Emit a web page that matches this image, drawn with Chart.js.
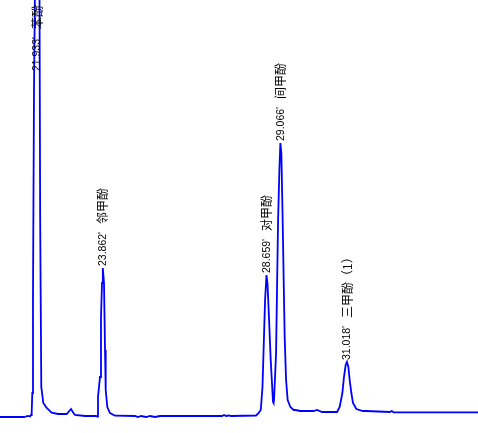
<!DOCTYPE html>
<html>
<head>
<meta charset="utf-8">
<script src="https://cdn.jsdelivr.net/npm/chart.js@4/dist/chart.umd.min.js"></script>
<style>
html,body{margin:0;padding:0;background:#fff;}
#wrap{width:478px;height:433px;}
</style>
</head>
<body>
<div id="wrap"><canvas id="c" width="478" height="433"></canvas></div>
<script>
// Retention time (min)
const times = [20.849, 21.552, 21.670, 21.728, 21.758, 21.778, 21.796, 21.816, 21.846, 21.875,
  21.933, 22.006, 22.026, 22.059, 22.118, 22.218, 22.364, 22.549, 22.804, 22.880,
  22.930, 22.997, 23.047, 23.340, 23.663, 23.701, 23.721, 23.780, 23.809, 23.839,
  23.862, 23.897, 23.927, 23.947, 23.994, 24.073, 24.220, 24.806, 24.894, 24.982,
  25.128, 25.246, 25.392, 25.539, 26.711, 27.356, 27.414, 27.473, 27.561, 27.620,
  28.352, 28.420, 28.492, 28.542, 28.589, 28.618, 28.659, 28.688, 28.735, 28.783,
  28.826, 28.850, 28.866, 28.880, 28.940, 28.969, 28.999, 29.037, 29.066, 29.095,
  29.133, 29.163, 29.192, 29.233, 29.280, 29.359, 29.456, 29.506, 29.652, 30.033,
  30.142, 30.288, 30.728, 30.804, 30.883, 30.930, 30.980, 31.018, 31.059, 31.097,
  31.147, 31.194, 31.293, 31.487, 31.586, 32.269, 32.328, 32.386, 34.858];
// Detector signal
const signal = [0, 0, 1, 0.5, 2, 5, 24, 120, 330, 430,
  800, 430, 200, 30, 14, 9, 4.3, 3, 3, 6,
  8, 4.3, 2, 1, 1, 0.5, 20, 40, 100, 134,
  149, 134, 67, 27, 10, 4, 1.3, 1, 0, 1,
  0, 1, 0, 1, 1, 1, 2, 1, 1.5, 1,
  1.5, 3.7, 7, 30, 84, 117, 142, 134, 97, 57,
  30, 15, 14, 17, 64, 130, 197, 247, 274, 264,
  197, 137, 80, 37, 17, 10, 7, 7, 6, 6,
  7, 5, 5, 10, 24, 40, 52, 55, 50, 37,
  24, 14, 8, 6, 6, 5, 6, 4.7, 4.7];
// Peak annotations
const peakTimes = [21.933, 23.862, 28.659, 29.066, 31.018];
const peakTimeLabels = ["21.933'", "23.862'", "28.659'", "29.066'", "31.018'"];
const peakNames = ["苯酚", "邻甲酚", "对甲酚", "间甲酚", "三甲酚（1）"];

const points = times.map((t, i) => ({x: t, y: signal[i]}));

const peakLabelPlugin = {
  id: 'peakLabels',
  afterDatasetsDraw(chart) {
    const ctx = chart.ctx;
    const xs = chart.scales.x, ys = chart.scales.y;
    const numFont = "10.5px 'Liberation Sans', Arial, sans-serif";
    const nameFont = "12px 'Noto Sans CJK SC', sans-serif";
    const gap = 8;
    peakTimes.forEach((t, k) => {
      let best = 0;
      times.forEach((tt, i) => { if (Math.abs(tt - t) < 0.03 && signal[i] > best) best = signal[i]; });
      const px = xs.getPixelForValue(t);
      const py = ys.getPixelForValue(best);
      ctx.save();
      ctx.font = numFont;
      const w1 = ctx.measureText(peakTimeLabels[k]).width;
      ctx.font = nameFont;
      const w2 = ctx.measureText(peakNames[k]).width;
      const total = w1 + gap + w2;
      let start = py - 2;
      if (start - total < 4) start = total + 5;
      ctx.translate(px, start);
      ctx.rotate(-Math.PI / 2);
      ctx.fillStyle = '#000';
      ctx.textBaseline = 'middle';
      ctx.textAlign = 'left';
      ctx.font = numFont;
      ctx.fillText(peakTimeLabels[k], 0, 0.5);
      ctx.font = nameFont;
      ctx.fillText(peakNames[k], w1 + gap, 0);
      ctx.restore();
    });
  }
};

new Chart(document.getElementById('c'), {
  type: 'line',
  data: {
    datasets: [{
      data: points,
      borderColor: '#0000FF',
      borderWidth: 1.8,
      pointRadius: 0,
      tension: 0,
      fill: false
    }]
  },
  options: {
    responsive: false,
    animation: false,
    layout: {padding: 0},
    plugins: {legend: {display: false}, tooltip: {enabled: false}},
    scales: {
      x: {type: 'linear', min: 20.849, max: 34.858, display: false},
      y: {type: 'linear', min: -16, max: 417, display: false}
    }
  },
  plugins: [peakLabelPlugin]
});
</script>
</body>
</html>
